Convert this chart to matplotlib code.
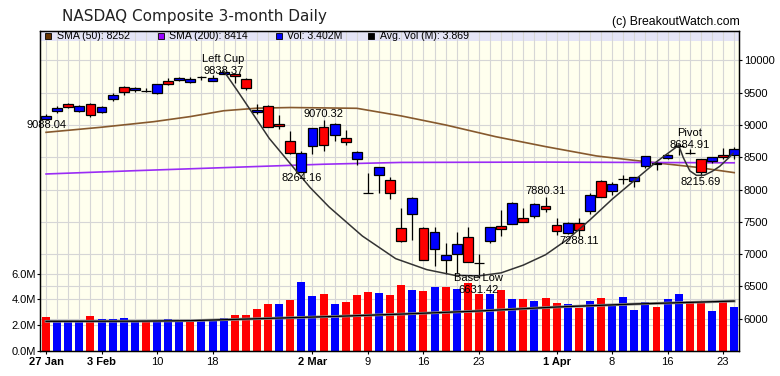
import matplotlib.pyplot as plt
from matplotlib.patches import Rectangle
from matplotlib.transforms import blended_transform_factory

plt.rcParams['font.family'] = ['Liberation Sans', 'DejaVu Sans']

# daily candles, 27 Jan .. 24 Apr
opens = [9092, 9217, 9320, 9217, 9320, 9196, 9397, 9583, 9537, 9521,
         9495, 9676, 9697, 9666, 9735, 9681, 9785, 9789, 9707, 9196,
         9299, 9010, 8747, 8267, 8670, 8964, 8840, 8799, 8469, 7951,
         8221, 8143, 7411, 7617, 7400, 7075, 6905, 6998, 7266, 6869,
         7204, 7431, 7468, 7555, 7586, 7741, 7452, 7323, 7478, 7664,
         8133, 7978, 8160, 8128, 8360, 8417, 8484, 8670, 8565, 8469,
         8437, 8530, 8530]
highs = [9175, 9299, 9346, 9310, 9335, 9299, 9500, 9604, 9583, 9568,
         9629, 9722, 9738, 9738, 9764, 9774, 9838, 9800, 9722, 9320,
         9305, 9155, 8902, 8600, 8952, 9070, 9026, 8923, 8603, 8257,
         8345, 8195, 7710, 7880, 7426, 7426, 7178, 7349, 7426, 7003,
         7426, 7684, 7803, 7720, 7787, 7880, 7565, 7503, 7555, 7942,
         8148, 8117, 8231, 8200, 8525, 8432, 8546, 8700, 8634, 8469,
         8510, 8639, 8655]
lows = [9088, 9181, 9258, 9206, 9119, 9181, 9377, 9464, 9506, 9506,
        9485, 9614, 9681, 9655, 9692, 9681, 9784, 9645, 9537, 9175,
        8965, 8938, 8556, 8264, 8546, 8598, 8752, 8690, 8376, 7944,
        7942, 7849, 7195, 7220, 6905, 6822, 6688, 6704, 6880, 6631,
        7168, 7282, 7468, 7493, 7555, 7648, 7302, 7312, 7288, 7622,
        7880, 7916, 8087, 8035, 8340, 8303, 8474, 8536, 8546, 8216,
        8406, 8469, 8469]
closes = [9139, 9270, 9275, 9299, 9151, 9273, 9468, 9509, 9572, 9521,
          9628, 9640, 9726, 9712, 9735, 9733, 9817, 9751, 9577, 9226,
          8966, 8981, 8566, 8567, 8952, 8684, 9018, 8739, 8576, 7951,
          8344, 7952, 7210, 7875, 6905, 7335, 6990, 7151, 6880, 6869,
          7418, 7384, 7798, 7502, 7774, 7700, 7361, 7487, 7373, 7913,
          7887, 8091, 8160, 8192, 8516, 8393, 8532, 8670, 8565, 8267,
          8500, 8500, 8634]

# volume in millions, colour = up/down versus previous close
volume = [2.61, 2.22, 2.30, 2.37, 2.68, 2.45, 2.45, 2.53, 2.32, 2.32,
          2.22, 2.45, 2.37, 2.32, 2.32, 2.32, 2.53, 2.76, 2.76, 3.23,
          3.61, 3.61, 3.92, 5.32, 4.23, 4.39, 3.61, 3.77, 4.31, 4.54,
          4.46, 4.31, 5.08, 4.72, 4.62, 4.93, 4.93, 4.77, 5.24, 4.39,
          4.39, 4.72, 4.03, 4.03, 3.85, 4.08, 3.69, 3.61, 3.33, 3.85,
          4.08, 3.56, 4.15, 3.15, 3.77, 3.38, 4.00, 4.39, 3.85, 3.77,
          3.07, 3.77, 3.40]
vol_dir = "rbbbrbbbbrbbbrbbbrrrrbrbbrbrrrbrrbrbrbrrbrbrbrrbrbrbbbbrbbrrbrb"

avg_idx = [0, 8, 13, 17, 26, 32, 39, 46, 53, 62]
avg_vol = [2.30, 2.31, 2.35, 2.45, 2.68, 2.86, 3.10, 3.41, 3.64, 3.87]

sma50_idx = [0, 5, 9.7, 13, 16, 19, 22, 28, 32, 36, 40.5, 45, 49.6, 54, 58.6, 62]
sma50 = [8886, 8965, 9051, 9130, 9220, 9260, 9270, 9258, 9140, 9000,
         8819, 8665, 8520, 8432, 8345, 8262]
sma200_idx = [0, 8, 17, 25, 32, 45, 62]
sma200 = [8241, 8292, 8345, 8392, 8420, 8425, 8414]

# cup and handle outline
cup_idx = [16, 17.2, 18.3, 20.1, 22.2, 23.8, 25.5, 28.5, 31.5, 34.3, 36.8, 39.0,
           41, 43, 45, 47, 49, 51, 53, 55, 57]
cup_val = [9838, 9540, 9259, 8794, 8360, 8030, 7730, 7280, 6930, 6760, 6672, 6663,
           6710, 6830, 6990, 7230, 7530, 7850, 8140, 8430, 8685]
handle_idx = [57, 57.4, 58.0, 58.6, 59.3, 60.0, 60.7, 61.5, 61.9]
handle_val = [8685, 8500, 8290, 8220, 8222, 8280, 8360, 8490, 8560]

# point labels: index, value, name, above/below
lab_idx = [0, 16, 23, 25, 39, 45, 48, 58, 59]
lab_val = [9088.04, 9838.37, 8264.16, 9070.32, 6631.42, 7880.31, 7288.11, 8684.91, 8215.69]
lab_name = ['', 'Left Cup', '', '', 'Base Low', '', '', 'Pivot', '']
lab_up = [False, True, False, True, False, True, False, True, False]

tick_idx = [0, 5, 10, 15, 24, 29, 34, 39, 46, 51, 56, 61]
tick_lab = ['27 Jan', '3 Feb', '10', '18', '2 Mar', '9', '16', '23', '1 Apr', '8', '16', '23']

price_ticks = list(range(6000, 10001, 500))
vol_ticks = [0, 2, 4, 6]

n = len(closes)
x = list(range(n))

fig = plt.figure(figsize=(7.8, 3.76), dpi=100)
axv = fig.add_axes([40.3 / 780, 25 / 376, 699 / 780, 320 / 376], facecolor='#ffffee')
ax = axv.twinx()

axv.set_xlim(-0.52, 62.46)
axv.set_ylim(0, 24.8)
ax.set_ylim(5500, 10455)

# background: legend band and grid
axv.add_patch(Rectangle((0, 0.9697), 1, 0.0303, transform=axv.transAxes,
                        facecolor='#e4e4f6', edgecolor='none', zorder=0.5))
grid_c = '#d6d6d6'
for i in x:
    axv.axvline(i, color=grid_c, lw=0.8, zorder=0.8)
for v in vol_ticks[1:]:
    axv.axhline(v, color=grid_c, lw=0.8, zorder=0.8)
tr = blended_transform_factory(axv.transAxes, ax.transData)
for p in price_ticks:
    axv.plot([0, 1], [p, p], color=grid_c, lw=0.8, zorder=0.8, transform=tr)

# volume
vcols = ['#ff0000' if c == 'r' else '#0000ff' for c in vol_dir]
axv.bar(x, volume, width=0.72, color=vcols, zorder=2)
axv.plot(avg_idx, avg_vol, color='#8a8a8a', lw=2.0, zorder=3)
axv.plot(avg_idx, avg_vol, color='black', lw=0.9, zorder=3.1)

# moving averages
ax.plot(sma50_idx, sma50, color='#86592d', lw=1.2, zorder=2)
ax.plot(sma200_idx, sma200, color='#9a2cf5', lw=1.2, zorder=2)

# candles
body_lo = [min(o, c) for o, c in zip(opens, closes)]
body_h = [abs(c - o) for o, c in zip(opens, closes)]
ccols = []
for o, c in zip(opens, closes):
    if c > o:
        ccols.append('#0000ff')
    elif c < o:
        ccols.append('#ff0000')
    else:
        ccols.append('black')
ax.vlines(x, lows, highs, color='black', lw=0.9, zorder=4)
ax.bar(x, body_h, bottom=body_lo, width=0.88, color=ccols,
       edgecolor='black', linewidth=0.9, zorder=5)

# cup with handle
ax.plot(cup_idx, cup_val, color='#333333', lw=1.1, zorder=6)
ax.plot(handle_idx, handle_val, color='#333333', lw=1.1, zorder=6)

# point labels (named points: highs have name on top, lows have value under)
for i, v, name, up in zip(lab_idx, lab_val, lab_name, lab_up):
    s = 1 if up else -1
    val = '%.2f' % v
    if name:
        if up:
            top, bottom = name, val
        else:
            top, bottom = name, val
        off_top = 8.6 if up else 0
        ax.annotate(top, (i, v), xytext=(0, off_top), textcoords='offset points',
                    ha='center', va='center', fontsize=8, zorder=7)
        ax.annotate(bottom, (i, v), xytext=(0, off_top - 8.6), textcoords='offset points',
                    ha='center', va='center', fontsize=8, zorder=7)
    else:
        ax.annotate(val, (i, v), xytext=(0, s * 4.3), textcoords='offset points',
                    ha='center', va='center', fontsize=8, zorder=7)

# axes, ticks
axv.set_xticks(tick_idx)
axv.set_xticklabels(tick_lab)
for t, lab in zip(axv.get_xticklabels(), tick_lab):
    if ' ' in lab:
        t.set_fontweight('bold')
axv.set_yticks(vol_ticks)
axv.set_yticklabels(['%.1fM' % v for v in vol_ticks])
ax.set_yticks(price_ticks)
axv.tick_params(axis='x', direction='out', length=2.5, width=0.8, labelsize=8, pad=2)
axv.tick_params(axis='y', direction='out', length=2.5, width=0.8, labelsize=8, pad=0.5)
ax.tick_params(axis='y', direction='out', length=2.5, width=0.8, labelsize=8, pad=0.7)
for a in (axv, ax):
    for sp in a.spines.values():
        sp.set_linewidth(0.9)
        sp.set_color('black')

# legend strip
leg_x = [0.0117, 0.172, 0.3408, 0.4738]
leg_c = ['#663300', '#9900ff', '#0000ff', 'black']
leg_t = ['SMA (50): 8252', 'SMA (200): 8414', 'Vol: 3.402M', 'Avg. Vol (M): 3.869']
for lx, lc, lt in zip(leg_x, leg_c, leg_t):
    axv.plot([lx], [0.9853], marker='s', ms=5, mfc=lc, mec='black', mew=0.6,
             transform=axv.transAxes, zorder=8, clip_on=False)
    axv.text(lx + 0.0125, 0.9853, lt, transform=axv.transAxes, fontsize=7.6,
             va='center', ha='left', zorder=8)

fig.text(62 / 780, 1 - 17 / 376, 'NASDAQ Composite 3-month Daily', fontsize=11,
         family='DejaVu Sans', color='#222222', ha='left', va='center')
fig.text(740 / 780, 1 - 22 / 376, '(c) BreakoutWatch.com', fontsize=8.8,
         ha='right', va='center')

fig.savefig('out.png', dpi=100)
